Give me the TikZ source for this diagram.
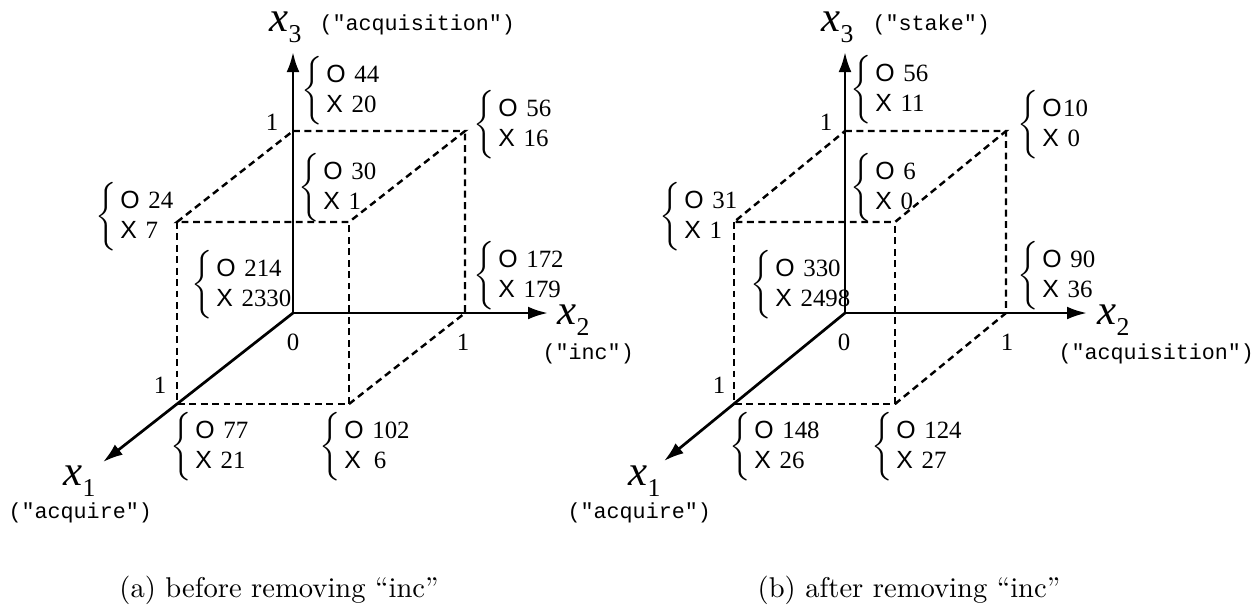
\documentclass[tikz,border=0pt]{standalone}
\usepackage{fontspec}
\usetikzlibrary{arrows.meta}
\newfontfamily\numfont{Liberation Serif}
\newfontfamily\symfont{Liberation Sans}
\newfontfamily\monofont{Liberation Mono}
\newcommand\cnt[3][3pt]{$\left\{\hspace{1.2pt}\begin{tabular}{@{}l@{}}{\symfont O}\hspace{#1}#2\\{\symfont X}\hspace{3pt}#3\end{tabular}\right.$}
\newcommand\xlab[1]{{\fontsize{15}{18}\selectfont\itshape x}\raisebox{-4pt}{\fontsize{9}{10}\selectfont #1}}
\begin{document}
\begin{tikzpicture}[x=0.35pt,y=-0.35pt,
 axisline/.style={line width=0.95pt,-{Latex[length=7pt,width=4.5pt]}},
 cubeedge/.style={line width=0.85pt,dash pattern=on 2.4pt off 1.6pt},
 cntbox/.style={anchor=west,inner sep=0pt,font=\numfont\fontsize{8.7}{10.5}\selectfont},
 numlab/.style={inner sep=0pt,font=\numfont\fontsize{8.7}{10.5}\selectfont},
 xlabel/.style={anchor=base west,inner sep=0pt,font=\numfont},
 ttlab/.style={anchor=base west,inner sep=0pt,font=\monofont\fontsize{7.6}{9}\selectfont},
 captext/.style={inner sep=0pt,font=\rmfamily\fontsize{10}{12}\selectfont}]
\useasboundingbox (0,0) rectangle (1258,610);
% ---------- left panel ----------
\coordinate (LO) at (293,313);
\coordinate (L1) at (177,404);
\coordinate (L2) at (465,313);
\coordinate (L3) at (293,131);
\coordinate (L12) at (349,404);
\coordinate (L13) at (177,222);
\coordinate (L23) at (465,131);
\coordinate (L123) at (349,222);
\coordinate (L1tip) at (103,462);
\coordinate (L2tip) at (548,313);
\coordinate (L3tip) at (293,52);
\draw[cubeedge] (L3) -- (L23) -- (L123) -- (L13) -- cycle;
\draw[cubeedge] (L13) -- (L1) -- (L12) -- (L123);
\draw[cubeedge] (L12) -- (L2) -- (L23);
\draw[axisline] (LO) -- (L3tip);
\draw[axisline] (LO) -- (L2tip);
\draw[axisline] (LO) -- (L1tip);
\node[xlabel] (lx3) at (269,31) {\xlab{3}};
\node[ttlab] (lx3t) at (319,30) {("acquisition")};
\node[xlabel] (lx2) at (557,324) {\xlab{2}};
\node[ttlab] (lx2t) at (542,359) {("inc")};
\node[xlabel] (lx1) at (63,485) {\xlab{1}};
\node[ttlab] (lx1t) at (8,518) {("acquire")};
\node[numlab] (ln3) at (272,122) {1};
\node[numlab] (ln0) at (293,342) {0};
\node[numlab] (ln2) at (463,342) {1};
\node[numlab] (ln1) at (160,385) {1};
\node[cntbox] (lc1) at (301,91) {\cnt{44}{20}};
\node[cntbox] (lc2) at (473,125) {\cnt{56}{16}};
\node[cntbox] (lc3) at (298,188) {\cnt{30}{1}};
\node[cntbox] (lc4) at (95,217) {\cnt{24}{7}};
\node[cntbox] (lc5) at (191,285) {\cnt{214}{2330}};
\node[cntbox] (lc6) at (473,276) {\cnt{172}{179}};
\node[cntbox] (lc7) at (170,447) {\cnt{77}{21}};
\node[cntbox] (lc8) at (319,447) {\cnt{102}{\hspace{1.5pt}6}};
\node[captext] (lcap) at (279,590) {(a) before removing ``inc''};
% ---------- right panel ----------
\coordinate (RO) at (845,313);
\coordinate (R1) at (734,404);
\coordinate (R2) at (1006,313);
\coordinate (R3) at (845,131);
\coordinate (R12) at (895,404);
\coordinate (R13) at (734,222);
\coordinate (R23) at (1006,131);
\coordinate (R123) at (895,222);
\coordinate (R1tip) at (664,461);
\coordinate (R2tip) at (1087,313);
\coordinate (R3tip) at (845,52);
\draw[cubeedge] (R3) -- (R23) -- (R123) -- (R13) -- cycle;
\draw[cubeedge] (R13) -- (R1) -- (R12) -- (R123);
\draw[cubeedge] (R12) -- (R2) -- (R23);
\draw[axisline] (RO) -- (R3tip);
\draw[axisline] (RO) -- (R2tip);
\draw[axisline] (RO) -- (R1tip);
\node[xlabel] (rx3) at (821,31) {\xlab{3}};
\node[ttlab] (rx3t) at (872,30) {("stake")};
\node[xlabel] (rx2) at (1097,324) {\xlab{2}};
\node[ttlab] (rx2t) at (1058,359) {("acquisition")};
\node[xlabel] (rx1) at (628,485) {\xlab{1}};
\node[ttlab] (rx1t) at (567,518) {("acquire")};
\node[numlab] (rn3) at (826,122) {1};
\node[numlab] (rn0) at (844,342) {0};
\node[numlab] (rn2) at (1007,342) {1};
\node[numlab] (rn1) at (719,385) {1};
\node[cntbox] (rc1) at (850,90) {\cnt{56}{11}};
\node[cntbox] (rc2) at (1017,125) {\cnt[0.5pt]{10}{0}};
\node[cntbox] (rc3) at (850,188) {\cnt{6}{0}};
\node[cntbox] (rc4) at (659,217) {\cnt{31}{1}};
\node[cntbox] (rc5) at (750,285) {\cnt{330}{2498}};
\node[cntbox] (rc6) at (1017,276) {\cnt{90}{36}};
\node[cntbox] (rc7) at (729,447) {\cnt{148}{26}};
\node[cntbox] (rc8) at (871,447) {\cnt{124}{27}};
\node[captext] (rcap) at (909,590) {(b) after removing ``inc''};
\end{tikzpicture}
\end{document}
